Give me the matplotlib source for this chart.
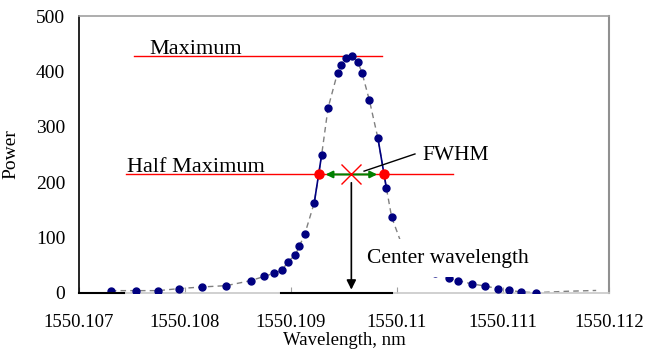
import numpy as np
import matplotlib
matplotlib.use('Agg')
import matplotlib.pyplot as plt

plt.rcParams['font.family'] = 'serif'
plt.rcParams['font.serif'] = ['Liberation Serif', 'DejaVu Serif']

# measured spectrum
wavelength = [1550.10730, 1550.10754, 1550.10775, 1550.10794, 1550.10816, 1550.10839,
              1550.10862, 1550.10875, 1550.10884, 1550.10892, 1550.10897, 1550.10904,
              1550.10908, 1550.10913, 1550.10922, 1550.10929, 1550.10935, 1550.10944,
              1550.10947, 1550.10952, 1550.10958, 1550.10963, 1550.10967, 1550.10974,
              1550.10982, 1550.10990, 1550.10995, 1550.11006, 1550.11016, 1550.11026,
              1550.11036, 1550.11049, 1550.11058, 1550.11071, 1550.11083, 1550.11095,
              1550.11106, 1550.11117, 1550.11131]
power = [4.2, 4.2, 4.2, 7.8, 10.8, 13.2, 22.2, 30.1, 35.6, 41.5, 56.5, 68, 84.8, 106,
         163, 250, 334, 398, 412, 424, 428, 417.5, 398, 348, 280, 190, 137, 80, 60,
         46, 36, 26.5, 22.2, 16.2, 12.6, 7.8, 4.9, 1.8, 0.5]

# tail of the fitted curve beyond the last sample
fit_tail_wl = [1550.11160, 1550.11188]
fit_tail_power = [3.0, 4.5]

xtick_values = [1550.107, 1550.108, 1550.109, 1550.110, 1550.111, 1550.112]
xtick_labels = ['1550.107', '1550.108', '1550.109', '1550.11', '1550.111', '1550.112']
ytick_values = [0, 100, 200, 300, 400, 500]

wl = np.array(wavelength)
pw = np.array(power)

# half maximum crossings by linear interpolation
peak = int(np.argmax(pw))
max_power = pw[peak]
half = max_power / 2
x_left = np.interp(half, pw[:peak + 1], wl[:peak + 1])
x_right = np.interp(half, pw[peak:][::-1], wl[peak:][::-1])
center = (x_left + x_right) / 2

fig = plt.figure(figsize=(6.45, 3.5), dpi=100)
ax = fig.add_axes([0.1225, 0.163, 0.8215, 0.791])

# fit curve (dashed) and samples
ax.plot(list(wavelength) + fit_tail_wl, list(power) + fit_tail_power,
        ls=(0, (4, 3)), color='#808080', lw=1, zorder=2)
ax.plot(wl, pw, 'o', color='#000080', ms=5, zorder=3)

# segments around the half maximum crossings
i_up = np.searchsorted(pw[:peak + 1], half)
i_dn = peak + np.argmax(pw[peak:] < half)
ax.plot(wl[i_up - 1:i_up + 1], pw[i_up - 1:i_up + 1], color='#000080', lw=1.2, zorder=3)
ax.plot(wl[i_dn - 1:i_dn + 1], pw[i_dn - 1:i_dn + 1], color='#000080', lw=1.2, zorder=3)

# maximum and half maximum levels
ax.plot([1550.10752, 1550.10986], [max_power, max_power], color='red', lw=1, zorder=2)
ax.plot([1550.10744, 1550.11053], [half, half], color='red', lw=1, zorder=2)
ax.plot([x_left, x_right], [half, half], 'o', color='red', ms=6.5, zorder=5)

ax.annotate('', xy=(x_right, half), xytext=(x_left, half),
            arrowprops=dict(arrowstyle='<|-|>', color='green', lw=1.5,
                            shrinkA=5, shrinkB=5, mutation_scale=10), zorder=4)
ax.plot([center], [half], 'x', color='red', ms=15, mew=1, zorder=6)
ax.annotate('', xy=(center, 6), xytext=(center, 199),
            arrowprops=dict(arrowstyle='-|>', color='black', lw=1.2,
                            shrinkA=0, shrinkB=0, mutation_scale=14), zorder=4)

# FWHM leader
ax.plot([1550.10969, 1550.11017], [220, 251], color='black', lw=1, zorder=4)
ax.text(1550.11024, 249, 'FWHM', fontsize=15.5, va='center', ha='left')

ax.text(1550.10766, 431, 'Maximum', fontsize=16, va='baseline', ha='left')
ax.text(1550.10745, 219, 'Half Maximum', fontsize=16, va='baseline', ha='left')
ax.text(1550.10972, 63, 'Center wavelength', fontsize=15.5, va='center', ha='left',
        zorder=10, bbox=dict(boxstyle='square,pad=0.45', fc='white', ec='none'))

# dark pieces of the base line
ax.plot([1550.10700, 1550.107425], [0, 0], color='black', lw=1.5, zorder=4, clip_on=False)
ax.plot([1550.10891, 1550.10995], [0, 0], color='black', lw=1.5, zorder=4, clip_on=False)

ax.set_xlim(xtick_values[0], xtick_values[-1])
ax.set_ylim(0, 500)
ax.set_xticks(xtick_values)
ax.set_xticklabels(xtick_labels)
ax.set_yticks(ytick_values)
ax.tick_params(axis='x', direction='in', length=4, color='#a0a0a0', pad=15, labelsize=13.5)
ax.tick_params(axis='y', length=0, pad=10, labelsize=14)
for lbl in ax.get_xticklabels() + ax.get_yticklabels():
    lbl.set_fontfamily('Liberation Serif')

ax.spines['left'].set_color('black')
ax.spines['left'].set_linewidth(1.2)
ax.spines['top'].set_color('#a0a0a0')
ax.spines['top'].set_linewidth(1.2)
ax.spines['right'].set_color('#909090')
ax.spines['right'].set_linewidth(1.5)
ax.spines['bottom'].set_color('#c8c8c8')
ax.spines['bottom'].set_linewidth(1.2)

ax.set_xlabel('Wavelength, nm', fontsize=13.5, labelpad=1)
ax.set_ylabel('Power', fontsize=14, labelpad=12)

fig.savefig('out.png', dpi=100)
